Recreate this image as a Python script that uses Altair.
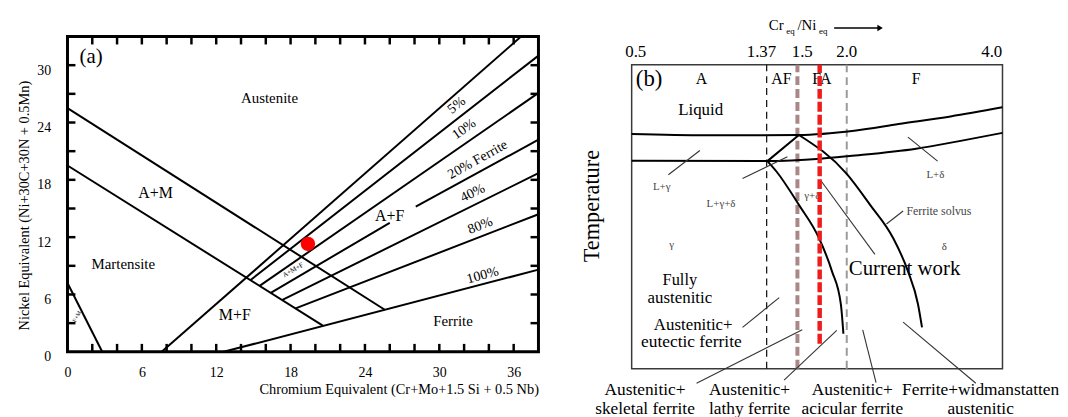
import altair as alt
import pandas as pd

FONT = "Liberation Serif"

# ====================== Panel (a): Schaeffler diagram ======================
# phase-boundary / iso-ferrite segments (Cr_eq, Ni_eq)
seg_names = ["A|A+M", "M|A+M", "0% ferrite", "5%", "10%", "20% lower", "20% upper",
             "40%", "80%", "100%", "M|F+M"]
seg_x0 = [0.0, 0.0, 7.6, 14.75, 15.5, 16.4, 28.1, 17.3, 18.4, 12.6, 0.0]
seg_y0 = [25.5, 19.5, 0.0, 7.5, 6.9, 6.17, 15.2, 5.4, 4.54, 0.0, 7.2]
seg_x1 = [25.6, 20.6, 36.6, 38.0, 38.0, 26.0, 38.0, 38.0, 38.0, 38.0, 2.8]
seg_y1 = [4.4, 2.75, 33.0, 31.0, 27.1, 13.5, 22.2, 18.7, 14.4, 8.6, 0.0]

# minor tick positions of the frame
a_xticks = [2, 4, 6, 8, 10, 12, 14, 16, 18, 20, 22, 24, 26, 28, 30, 32, 34, 36]
a_yticks = [3, 6, 9, 12, 15, 18, 21, 24, 27, 30]
a_xlabels = [0, 6, 12, 18, 24, 30, 36]
a_ylabels = [0, 6, 12, 18, 24, 30]

# region labels
a_text = ["(a)", "Austenite", "A+M", "Martensite", "M+F", "A+F", "Ferrite",
          "5%", "10%", "20% Ferrite", "40%", "80%", "100%", "A+M+F", "F+M"]
a_x = [1.9, 16.3, 7.1, 4.5, 13.5, 26.0, 31.1, 31.4, 32.0, 33.1, 32.7, 33.3, 33.5, 18.2, 0.75]
a_y = [30.9, 26.6, 16.6, 9.2, 3.8, 14.2, 3.2, 25.8, 23.3, 20.1, 16.6, 13.2, 8.0, 8.55, 3.7]
# styles for the labels
a_size = [21, 15, 16, 15, 16, 16, 15, 14, 14, 14, 14, 14, 14, 7, 6]
a_angle = [0, 0, 0, 0, 0, 0, 0, 322, 325, 331, 334, 339, 345, 330, 300]

# current work point
pt_x = [19.4]
pt_y = [11.3]

XMAX_A, YMAX_A = 38, 33

seg_df = pd.DataFrame({"name": seg_names, "x0": seg_x0, "y0": seg_y0, "x1": seg_x1, "y1": seg_y1})

tl_y = 0.83   # tick length in y units
tl_x = 0.64   # tick length in x units
tick_rows = []
for t in a_xticks:
    tick_rows.append((t, 0, t, tl_y))
    tick_rows.append((t, YMAX_A, t, YMAX_A - tl_y))
for t in a_yticks:
    tick_rows.append((0, t, tl_x, t))
    tick_rows.append((XMAX_A, t, XMAX_A - tl_x, t))
tick_df = pd.DataFrame(tick_rows, columns=["x0", "y0", "x1", "y1"])

a_lab_df = pd.DataFrame({"t": a_text, "x": a_x, "y": a_y, "s": a_size, "a": a_angle})
pt_df = pd.DataFrame({"x": pt_x, "y": pt_y})

xa_scale = alt.Scale(domain=[0, XMAX_A], nice=False, zero=False)
ya_scale = alt.Scale(domain=[0, YMAX_A], nice=False, zero=False)
xa_axis = alt.Axis(values=a_xlabels, title="Chromium Equivalent (Cr+Mo+1.5 Si + 0.5 Nb)",
                   ticks=False, domain=False, grid=False, labelFlush=False, labelOverlap=False,
                   labelFont=FONT, labelFontSize=14, labelColor="black", labelPadding=14,
                   titleFont=FONT, titleFontSize=14.5, titleFontWeight="normal", titleColor="black",
                   titleAnchor="end", titlePadding=3)
ya_axis = alt.Axis(values=a_ylabels, title="Nickel Equivalent (Ni+30C+30N + 0.5Mn)",
                   ticks=False, domain=False, grid=False, labelFlush=False, labelOverlap=False,
                   labelFont=FONT, labelFontSize=14, labelColor="black", labelPadding=17,
                   labelOffset=5,
                   titleFont=FONT, titleFontSize=14.5, titleFontWeight="normal", titleColor="black",
                   titlePadding=5, titleY=170)

def ax(field):
    return alt.X(field, type="quantitative", scale=xa_scale, axis=xa_axis)

def ay(field):
    return alt.Y(field, type="quantitative", scale=ya_scale, axis=ya_axis)

a_segs = alt.Chart(seg_df).mark_rule(color="black", strokeWidth=2).encode(
    x=ax("x0"), y=ay("y0"), x2="x1:Q", y2="y1:Q")
a_ticks = alt.Chart(tick_df).mark_rule(color="black", strokeWidth=2.5).encode(
    x=ax("x0"), y=ay("y0"), x2="x1:Q", y2="y1:Q")
a_labels = alt.Chart(a_lab_df).mark_text(font=FONT, color="black").encode(
    x=ax("x"), y=ay("y"), text="t:N",
    size=alt.Size("s:Q", scale=None), angle=alt.Angle("a:Q", scale=None))
a_point = alt.Chart(pt_df).mark_circle(color="#ff0000", opacity=1, size=210).encode(
    x=ax("x"), y=ay("y"))

left = alt.layer(a_segs, a_ticks, a_labels, a_point).properties(
    width=475, height=318,
    view=alt.ViewBackground(stroke="black", strokeWidth=3, fill="white"),
)

# ====================== Panel (b): schematic Cr_eq/Ni_eq diagram ======================
# x: schematic composition position (0-100), T: schematic temperature (0-100)
ratio_pos = [1.1, 35.0, 46.0, 58.0, 97.1]
ratio_lab = ["0.5", "1.37", "1.5", "2.0", "4.0"]
ratio_T = 104.2

liq_u = [0, 20, 45, 60, 72, 86, 100]
liq_T = [77.2, 76.8, 76.9, 78.3, 80.5, 83.0, 86.0]
sol_u = [0, 36.6, 50.9, 58.8, 76.7, 88, 100]
sol_T = [68.4, 68.3, 69.1, 70.0, 72.4, 74.8, 77.6]
inner_u = [36.6, 39.1, 45.1, 50.5, 54.0, 56.4, 57.1]
inner_T = [68.3, 64.8, 53.9, 43.0, 32.1, 21.3, 11.5]
solvus_u = [45.1, 58.0, 64.3, 70.5, 74.5, 77.2, 78.3]
solvus_T = [76.9, 64.1, 53.9, 43.0, 32.1, 21.3, 13.6]
# straight edge of the three-phase triangle
tri_u = [36.6, 45.1]
tri_T = [68.3, 76.9]

# diagram frame
frame_u = [0, 100]
frame_T = [0, 100]

# mode boundaries: 1.37 (A/AF), 1.5 (AF/FA), 2.0 (FA/F)
bound_u = [36.4, 44.7, 58.0]
# current work
cw_u = 50.7
cw_T = [8.2, 100]

# leader lines
ld_u0 = [9.9, 29.9, 74.5, 68.7, 50.9, 29.9, 17.5, 41.1, 65.9, 92.8]
ld_T0 = [63.8, 62.6, 76.2, 47.6, 62.1, 13.6, -4.8, -3.8, -4.6, -4.8]
ld_u1 = [18.4, 42.0, 82.5, 73.2, 65.6, 39.8, 46.0, 55.3, 62.3, 73.2]
ld_T1 = [71.8, 69.7, 68.3, 51.9, 37.6, 23.4, 12.8, 12.6, 12.8, 15.3]

# text labels
b_text = ["(b)", "A", "AF", "FA", "F", "Liquid", "L+\u03b3", "L+\u03b3+\u03b4", "\u03b3+\u03b4",
          "L+\u03b4", "\u03b3", "\u03b4", "Current work", "Fully", "austenitic",
          "Austenitic+", "eutectic ferrite",
          "Austenitic+", "skeletal ferrite", "Austenitic+", "lathy ferrite",
          "Austenitic+", "acicular ferrite", "Ferrite+widmanstatten", "austenitic"]
b_u = [4.7, 18.8, 40.4, 51.3, 76.7, 18.6, 8.1, 24.1, 48.7, 81.9, 10.8, 84.3, 73.6, 13.0, 13.0,
       16.6, 16.1, 3.6, 3.6, 31.8, 31.8, 59.5, 59.5, 94.1, 94.1]
b_T = [95.2, 95.2, 95.2, 95.2, 95.2, 85.2, 59.9, 54.2, 56.9, 63.7, 40.6, 40.0, 32.7, 29.1, 23.1,
       14.5, 8.7, -7.0, -13.3, -7.0, -13.3, -7.0, -13.3, -7.0, -13.3]
b_size = [23, 16, 16, 16, 16, 17, 11, 11, 11, 11, 11, 11, 21, 16.5, 17,
          17, 17.5, 17.5, 17.5, 17.5, 17.5, 17.5, 17.5, 17.5, 17.5]
b_color = ["black"] * 6 + ["#444444"] * 6 + ["black"] * 13

solvus_lab = ["Ferrite solvus"]
solvus_lab_u = [74.1]
solvus_lab_T = [52.0]

# axis title pieces Cr_eq / Ni_eq
ttl_text = ["Cr", "eq", "/Ni", "eq"]
ttl_u = [37.0, 41.7, 44.7, 50.5]
ttl_T = [111.3, 110.2, 111.3, 110.2]
ttl_size = [15, 9, 15, 9]
arrow_u = [54.6, 67.0]
arrow_T = 112.1

TMAX_B = 109.3   # plot area reaches up to the top of panel (a)
xb_scale = alt.Scale(domain=[0, 100], nice=False, zero=False)
yb_scale = alt.Scale(domain=[0, TMAX_B], nice=False, zero=False)
xb_axis = alt.Axis(labels=False, ticks=False, domain=False, grid=False, title=None)
yb_axis = alt.Axis(labels=False, ticks=False, domain=False, grid=False, title="Temperature",
                   titleFont=FONT, titleFontSize=22.5, titleFontWeight="normal", titleColor="black",
                   titlePadding=28, titleY=170.5)

def bx(field):
    return alt.X(field, type="quantitative", scale=xb_scale, axis=xb_axis)

def by(field):
    return alt.Y(field, type="quantitative", scale=yb_scale, axis=yb_axis)

fr_df = pd.DataFrame({"u0": [frame_u[0]], "u1": [frame_u[1]], "T0": [frame_T[0]], "T1": [frame_T[1]]})
b_frame = alt.Chart(fr_df).mark_rect(fill="white", stroke="#3a3a3a", strokeWidth=1.5).encode(
    x=bx("u0"), x2="u1:Q", y=by("T0"), y2="T1:Q")

curve_rows = []
for name, us, ts in [("liquidus", liq_u, liq_T), ("solidus", sol_u, sol_T),
                     ("inner", inner_u, inner_T), ("solvus", solvus_u, solvus_T),
                     ("triangle", tri_u, tri_T)]:
    for i, (u, t) in enumerate(zip(us, ts)):
        curve_rows.append((name, i, u, t))
curve_df = pd.DataFrame(curve_rows, columns=["curve", "ord", "u", "T"])

b_curves = alt.Chart(curve_df).mark_line(color="black", strokeWidth=2, interpolate="monotone").encode(
    x=bx("u"), y=by("T"), detail="curve:N", order="ord:Q")

bound_styles = [("#1a1a1a", 1.3, [7, 5]), ("#a98787", 4, [9, 4]), ("#9a9a9a", 2, [8, 5])]
b_bounds = []
for u, (col, w, dash) in zip(bound_u, bound_styles):
    d = pd.DataFrame({"u": [u], "T0": [frame_T[0]], "T1": [frame_T[1]]})
    b_bounds.append(alt.Chart(d).mark_rule(color=col, strokeWidth=w, strokeDash=dash).encode(
        x=bx("u"), y=by("T0"), y2="T1:Q"))

cw_df = pd.DataFrame({"u": [cw_u], "T0": [cw_T[0]], "T1": [cw_T[1]]})
b_cw = alt.Chart(cw_df).mark_rule(color="#ee1d1d", strokeWidth=4.5, strokeDash=[10, 3]).encode(
    x=bx("u"), y=by("T0"), y2="T1:Q")

ld_df = pd.DataFrame({"u0": ld_u0, "T0": ld_T0, "u1": ld_u1, "T1": ld_T1})
b_leaders = alt.Chart(ld_df).mark_rule(color="#333333", strokeWidth=1.1).encode(
    x=bx("u0"), y=by("T0"), x2="u1:Q", y2="T1:Q")

b_lab_df = pd.DataFrame({"t": b_text, "u": b_u, "T": b_T, "s": b_size, "c": b_color})
b_labels = alt.Chart(b_lab_df).mark_text(font=FONT).encode(
    x=bx("u"), y=by("T"), text="t:N",
    size=alt.Size("s:Q", scale=None), color=alt.Color("c:N", scale=None))

sl_df = pd.DataFrame({"t": solvus_lab, "u": solvus_lab_u, "T": solvus_lab_T})
b_solvus_lab = alt.Chart(sl_df).mark_text(font=FONT, fontSize=12, align="left", color="#444444").encode(
    x=bx("u"), y=by("T"), text="t:N")

rt_df = pd.DataFrame({"t": ratio_lab, "u": ratio_pos, "T": [ratio_T] * len(ratio_pos)})
b_ratio = alt.Chart(rt_df).mark_text(font=FONT, fontSize=17, color="black").encode(
    x=bx("u"), y=by("T"), text="t:N")

ttl_df = pd.DataFrame({"t": ttl_text, "u": ttl_u, "T": ttl_T, "s": ttl_size})
b_title = alt.Chart(ttl_df).mark_text(font=FONT, align="left", baseline="alphabetic", color="black").encode(
    x=bx("u"), y=by("T"), text="t:N", size=alt.Size("s:Q", scale=None))

ar_df = pd.DataFrame({"u0": [arrow_u[0]], "u1": [arrow_u[1]], "T": [arrow_T]})
b_arrow = alt.Chart(ar_df).mark_rule(color="black", strokeWidth=1.5).encode(
    x=bx("u0"), x2="u1:Q", y=by("T"))
ah_df = pd.DataFrame({"u": [arrow_u[1]], "T": [arrow_T]})
b_head = alt.Chart(ah_df).mark_point(shape="triangle-right", filled=True, color="black",
                                     opacity=1, size=40).encode(x=bx("u"), y=by("T"))

right = alt.layer(b_frame, *b_bounds, b_curves, b_leaders, b_labels, b_solvus_lab, b_cw,
                  b_ratio, b_title, b_arrow, b_head).properties(
    width=374, height=335,
    view=alt.ViewBackground(stroke="transparent", strokeWidth=0, fill="white"),
)

chart = alt.hconcat(left, right, spacing=94, bounds="flush").properties(
    padding={"left": 7, "top": 8, "right": 0, "bottom": 0},
    background="white",
)

chart.save("out.html", embed_options={"renderer": "svg", "actions": False})
